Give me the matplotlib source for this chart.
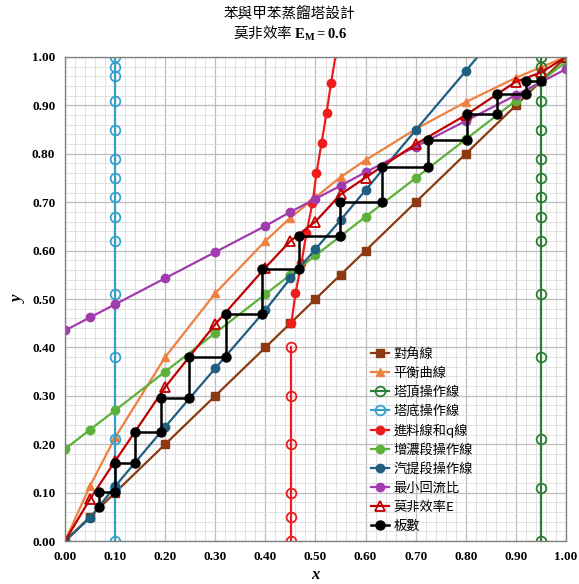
import matplotlib
matplotlib.use("Agg")
import matplotlib.pyplot as plt
from matplotlib.ticker import MultipleLocator, FormatStrFormatter

plt.rcParams['font.family'] = ['Liberation Serif', 'Noto Sans CJK TC']
plt.rcParams['mathtext.fontset'] = 'custom'
plt.rcParams['mathtext.rm'] = 'Liberation Serif'
plt.rcParams['mathtext.bf'] = 'Liberation Serif:bold'
plt.rcParams['mathtext.it'] = 'Liberation Serif:italic'

# 共用 x 座標
x_grid = [0, 0.05, 0.1, 0.2, 0.3, 0.4, 0.45, 0.5, 0.55, 0.6, 0.7, 0.8, 0.9, 0.95, 1.0]

# 對角線
diag_y = [0, 0.05, 0.1, 0.2, 0.3, 0.4, 0.45, 0.5, 0.55, 0.6, 0.7, 0.8, 0.9, 0.95, 1.0]

# 平衡曲線
eq_y = [0, 0.114, 0.214, 0.38, 0.512, 0.62, 0.668, 0.71, 0.752, 0.787, 0.851, 0.907, 0.957, 0.979, 1.0]

# 塔頂 / 塔底操作線 (垂直線)
xD = 0.95
xW = 0.10
vert_y = [0, 0.11, 0.21, 0.38, 0.51, 0.62, 0.67, 0.71, 0.75, 0.79, 0.85, 0.91, 0.96, 0.98, 1.0]

# 進料線 (x = xF) 和 q 線
xF = 0.452
feed_y = [0, 0.05, 0.10, 0.20, 0.30, 0.40]
q_x = [0.452, 0.46, 0.472, 0.482, 0.494, 0.502, 0.512, 0.522, 0.531, 0.541]
q_y = [0.451, 0.512, 0.574, 0.637, 0.698, 0.76, 0.822, 0.884, 0.946, 1.008]

# 增濃段操作線
rect_x = [0, 0.05, 0.1, 0.2, 0.3, 0.4, 0.45, 0.5, 0.55, 0.6, 0.7, 0.8, 0.9, 0.95, 1.0]
rect_y = [0.19, 0.23, 0.27, 0.35, 0.43, 0.51, 0.55, 0.59, 0.63, 0.67, 0.75, 0.83, 0.91, 0.95, 0.99]

# 汽提段操作線
strip_x = [0, 0.05, 0.1, 0.2, 0.3, 0.4, 0.45, 0.5, 0.55, 0.6, 0.7, 0.8, 0.9]
strip_y = [0, 0.048, 0.113, 0.236, 0.357, 0.477, 0.543, 0.603, 0.663, 0.725, 0.849, 0.971, 1.095]

# 最小回流比
rmin_x = [0, 0.05, 0.1, 0.2, 0.3, 0.4, 0.45, 0.5, 0.55, 0.6, 0.7, 0.8, 0.9, 1.0]
rmin_y = [0.435, 0.462, 0.489, 0.543, 0.597, 0.651, 0.68, 0.707, 0.734, 0.762, 0.815, 0.868, 0.921, 0.975]

# 莫非效率 E
murph_y = [0, 0.087, 0.165, 0.318, 0.448, 0.565, 0.62, 0.66, 0.716, 0.751, 0.82, 0.88, 0.949, 0.968, 1.0]

# 板數 (階梯)
stage_x = [0.95, 0.92, 0.92, 0.862, 0.862, 0.802, 0.802, 0.724, 0.724, 0.632, 0.632,
           0.548, 0.548, 0.467, 0.467, 0.393, 0.393, 0.321, 0.321, 0.248, 0.248,
           0.191, 0.191, 0.14, 0.14, 0.10, 0.10, 0.068, 0.068]
stage_y = [0.95, 0.95, 0.923, 0.923, 0.882, 0.882, 0.829, 0.829, 0.772, 0.772, 0.701,
           0.701, 0.63, 0.63, 0.561, 0.561, 0.47, 0.47, 0.381, 0.381, 0.296,
           0.296, 0.226, 0.226, 0.162, 0.162, 0.102, 0.102, 0.07]

fig = plt.figure(figsize=(5.79, 5.84), dpi=100)
ax = fig.add_axes([0.1123, 0.0736, 0.8652, 0.8288])

lw = 1.6
ms = 6
ax.plot(x_grid, diag_y, color='#8B3A12', marker='s', lw=lw, ms=ms, label='對角線')
ax.plot(x_grid, eq_y, color='#EE8040', marker='^', lw=lw, ms=ms, label='平衡曲線')
ax.plot([xD] * len(vert_y), vert_y, color='#2E7D32', marker='o', mfc='none', mew=1.3,
        lw=lw, ms=ms + 1, label='塔頂操作線')
ax.plot([xW] * len(vert_y), vert_y, color='#35A0CF', marker='o', mfc='none', mew=1.3,
        lw=lw, ms=ms + 1, label='塔底操作線')
ax.plot([xF] * len(feed_y), feed_y, color='#EE1C1C', marker='o', mfc='none', mew=1.3,
        lw=lw, ms=ms + 1)
ax.plot(q_x, q_y, color='#EE1C1C', marker='o', lw=lw, ms=ms, label='進料線和q線')
ax.plot(rect_x, rect_y, color='#5DB13A', marker='o', lw=lw, ms=ms, label='增濃段操作線')
ax.plot(strip_x, strip_y, color='#1F5E80', marker='o', lw=lw, ms=ms, label='汽提段操作線')
ax.plot(rmin_x, rmin_y, color='#A23BAE', marker='o', lw=lw, ms=ms, label='最小回流比')
ax.plot(x_grid, murph_y, color='#C00000', marker='^', mfc='none', mew=1.3, lw=lw, ms=ms + 1,
        label='莫非效率E')
ax.plot(stage_x, stage_y, color='black', marker='o', lw=lw + 0.2, ms=ms + 0.5, label='板數')

ax.set_xlim(0, 1)
ax.set_ylim(0, 1)
ax.xaxis.set_major_locator(MultipleLocator(0.1))
ax.yaxis.set_major_locator(MultipleLocator(0.1))
ax.xaxis.set_minor_locator(MultipleLocator(0.02))
ax.yaxis.set_minor_locator(MultipleLocator(0.02))
ax.xaxis.set_major_formatter(FormatStrFormatter('%.2f'))
ax.yaxis.set_major_formatter(FormatStrFormatter('%.2f'))
ax.grid(True, which='major', color='#BDBDBD', lw=0.9)
ax.grid(True, which='minor', color='#DDDDDD', lw=0.6)
ax.set_axisbelow(True)
ax.tick_params(which='both', length=0, pad=7)
for lab in ax.get_xticklabels() + ax.get_yticklabels():
    lab.set_fontweight('bold')
    lab.set_fontsize(9.5)
for sp in ax.spines.values():
    sp.set_color('#808080')
    sp.set_linewidth(1.0)

ax.set_xlabel('x', fontsize=12, fontstyle='italic', fontweight='bold', labelpad=3)
ax.set_ylabel('y', fontsize=12, fontstyle='italic', fontweight='bold', labelpad=4)

fig.suptitle('苯與甲苯蒸餾塔設計\n莫非效率 $\\mathbf{E_M = 0.6}$', y=0.99,
             fontsize=10.5, family=['Noto Sans CJK TC', 'DejaVu Sans'], linespacing=1.25)

leg = ax.legend(loc='upper left', bbox_to_anchor=(0.60, 0.41), borderaxespad=0,
                frameon=False, handlelength=1.4, handletextpad=0.3, labelspacing=0.45,
                prop={'family': ['Noto Sans CJK TC', 'DejaVu Sans'], 'size': 9.5})

fig.savefig('out.png', dpi=100)
